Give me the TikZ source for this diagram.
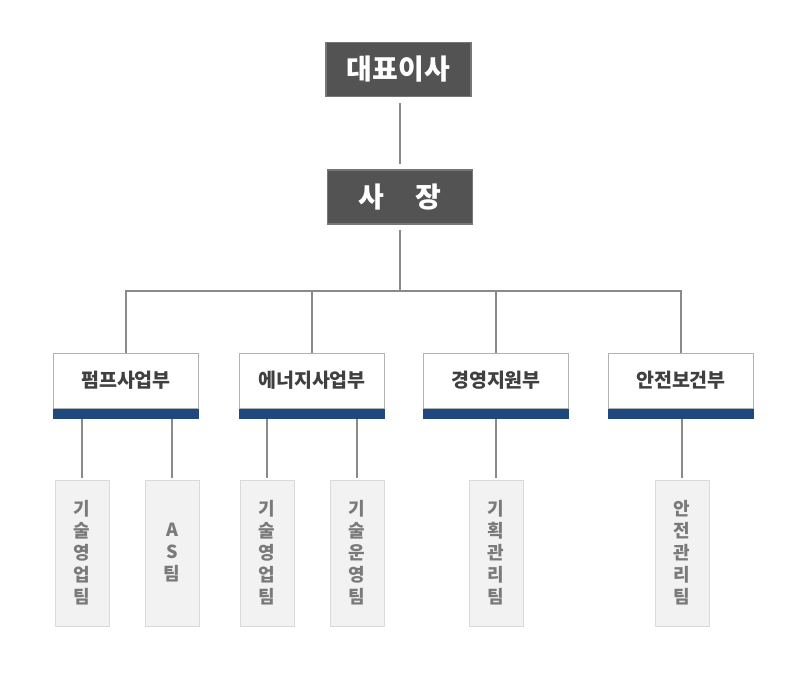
\documentclass[tikz,border=0pt]{standalone}
\usepackage{fontspec}
\setmainfont{Noto Sans CJK KR}
\usetikzlibrary{positioning}
\definecolor{headgray}{HTML}{535353}
\definecolor{headline}{HTML}{767676}
\definecolor{deptblue}{HTML}{1F497D}
\definecolor{linkgray}{HTML}{8A8A8A}
\definecolor{teamfill}{HTML}{F2F2F2}
\tikzset{
  headbox/.style={draw=headline, line width=1.2pt, fill=headgray, text=white,
    minimum width=145pt, minimum height=54pt, inner sep=0pt,
    font=\fontsize{28}{30}\selectfont\bfseries},
  deptbox/.style={draw=black!30, line width=0.8pt, fill=white, text=black!75,
    minimum width=145pt, minimum height=55pt, inner sep=0pt,
    font=\fontsize{19.5}{22}\selectfont\bfseries},
  deptbar/.style={fill=deptblue, minimum width=146pt, minimum height=10pt, inner sep=0pt},
  teambox/.style={draw=black!15, line width=0.8pt, fill=teamfill, text=black!52,
    minimum width=54pt, minimum height=146pt, inner sep=0pt, align=center,
    font=\fontsize{18}{22}\selectfont\bfseries},
  link/.style={draw=linkgray, line width=2pt}
}

\begin{document}
\begin{tikzpicture}[x=1pt,y=-1pt]
\useasboundingbox (0,0) rectangle (794,688);
% top
\node[headbox] (ceo) at (398.5,69.5) {대표이사};
\node[headbox] (pres) at (400,197) {사\hspace{1.1em}장};
\coordinate (hub) at (400,291);
% departments
\node[deptbox] (pump) at (126,380.5) {펌프사업부};
\node[deptbox] (energy) at (312,380.5) {에너지사업부};
\node[deptbox] (admin) at (496,380.5) {경영지원부};
\node[deptbox] (safety) at (681,380.5) {안전보건부};
\foreach \d in {pump,energy,admin,safety}
  \node[deptbar, below=0pt of \d] (\d bar) {};
% teams
\node[teambox] (pumpsales) at (82,553) {기\\술\\영\\업\\팀};
\node[teambox] (pumpas) at (172,553) {A\\S\\팀};
\node[teambox] (enersales) at (267,553) {기\\술\\영\\업\\팀};
\node[teambox] (enerops) at (357,553) {기\\술\\운\\영\\팀};
\node[teambox] (plan) at (496,553) {기\\획\\관\\리\\팀};
\node[teambox] (safemgmt) at (682,553) {안\\전\\관\\리\\팀};
% links
\draw[link, shorten <=6pt, shorten >=5pt] (ceo.south -| pres) -- (pres);
\draw[link, shorten <=5pt] (pres) -- (hub);
\foreach \d in {pump,energy,admin,safety}
  \draw[link] (hub) -| (\d.north);
\draw[link, shorten >=2pt] (pumpbar.south -| pumpsales) -- (pumpsales);
\draw[link, shorten >=2pt] (pumpbar.south -| pumpas) -- (pumpas);
\draw[link, shorten >=2pt] (energybar.south -| enersales) -- (enersales);
\draw[link, shorten >=2pt] (energybar.south -| enerops) -- (enerops);
\draw[link, shorten >=2pt] (adminbar.south -| plan) -- (plan);
\draw[link, shorten >=2pt] (safetybar.south -| safemgmt) -- (safemgmt);
\end{tikzpicture}
\end{document}
